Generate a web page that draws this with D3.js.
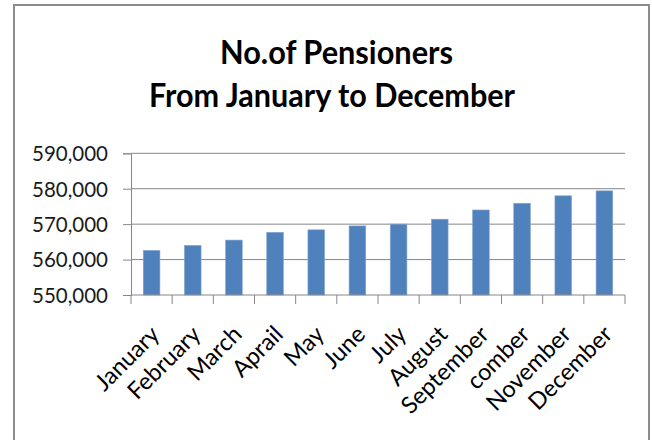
<!DOCTYPE html>
<html>
<head>
<meta charset="utf-8">
<script src="https://cdn.jsdelivr.net/npm/d3@7"></script>
<style>
  html, body { margin: 0; padding: 0; background: #fff; }
  svg { display: block; }
</style>
</head>
<body>
<svg id="chart" width="652" height="440"></svg>
<script>
// Monthly pensioner counts
const months = ["January", "February", "March", "Aprail", "May", "June", "July",
  "August", "September", "comber", "November", "December"];
const pensioners = [562600, 564000, 565500, 567700, 568400, 569500, 570000,
  571400, 574000, 575900, 578000, 579400];
const yTicks = [550000, 560000, 570000, 580000, 590000];
const titleLines = ["No.of Pensioners", "From January to December"];

const svg = d3.select("#chart");
const W = 652, H = 440;
const plot = { left: 131, right: 625, top: 153.3, bottom: 295 };
const font = "Lato, 'Open Sans', sans-serif";

svg.append("rect").attr("width", W).attr("height", H).attr("fill", "#fff");

// chart-area frame
svg.append("rect")
  .attr("x", 14).attr("y", 5).attr("width", 635).attr("height", 460)
  .attr("fill", "none").attr("stroke", "#8c8c8c").attr("stroke-width", 2);

// title, two lines
const titleCenters = [336.5, 332];
const titleWidths = [233, 366];
const titleBaselines = [64, 107];
svg.selectAll("text.title").data(titleLines).join("text")
  .attr("class", "title")
  .attr("x", (d, i) => titleCenters[i])
  .attr("y", (d, i) => titleBaselines[i])
  .attr("text-anchor", "middle")
  .attr("font-family", font).attr("font-weight", "bold").attr("font-size", 32)
  .attr("textLength", (d, i) => titleWidths[i])
  .attr("lengthAdjust", "spacingAndGlyphs")
  .attr("fill", "#000")
  .text(d => d);

const x = d3.scaleBand()
  .domain(months)
  .range([plot.left, plot.right])
  .paddingInner(0.595)
  .paddingOuter(0.2975);

const y = d3.scaleLinear()
  .domain([yTicks[0], yTicks[yTicks.length - 1]])
  .range([plot.bottom, plot.top]);

// horizontal gridlines
svg.append("g").selectAll("line").data(yTicks.slice(1)).join("line")
  .attr("x1", plot.left).attr("x2", plot.right)
  .attr("y1", d => y(d)).attr("y2", d => y(d))
  .attr("stroke", "#868686").attr("stroke-width", 1);

// bars
svg.append("g").selectAll("rect").data(pensioners).join("rect")
  .attr("x", (d, i) => x(months[i]))
  .attr("width", x.bandwidth())
  .attr("y", d => y(d))
  .attr("height", d => y(yTicks[0]) - y(d))
  .attr("fill", "#4f81bd")
  .attr("stroke", "#86a7d2").attr("stroke-width", 0.6);

// y axis
const yAxis = d3.axisLeft(y)
  .tickValues(yTicks)
  .tickSize(8)
  .tickPadding(15)
  .tickFormat(d3.format(","));
const gy = svg.append("g").attr("transform", `translate(${plot.left},0)`).call(yAxis);
gy.select(".domain").attr("stroke", "#868686");
gy.selectAll(".tick line").attr("stroke", "#868686");
gy.selectAll(".tick text")
  .attr("font-family", font).attr("font-size", 20.5).attr("fill", "#1a1a1a")
  .attr("dy", "0.36em");

// x axis: baseline with tick marks on category boundaries
const step = x.step();
const boundaries = d3.range(months.length + 1).map(i => plot.left + i * step);
const gx = svg.append("g");
gx.append("line")
  .attr("x1", plot.left).attr("x2", plot.right)
  .attr("y1", plot.bottom).attr("y2", plot.bottom)
  .attr("stroke", "#868686");
gx.selectAll("line.tk").data(boundaries).join("line")
  .attr("class", "tk")
  .attr("x1", d => d).attr("x2", d => d)
  .attr("y1", plot.bottom).attr("y2", plot.bottom + 9)
  .attr("stroke", "#868686");

gx.selectAll("text").data(months).join("text")
  .attr("transform", d => `translate(${x(d) + x.bandwidth() / 2 + 3.5},${plot.bottom + 35}) rotate(-45)`)
  .attr("text-anchor", "end")
  .attr("dy", "0.35em")
  .attr("font-family", font).attr("font-size", 23.5).attr("fill", "#000")
  .text(d => d);
</script>
</body>
</html>
